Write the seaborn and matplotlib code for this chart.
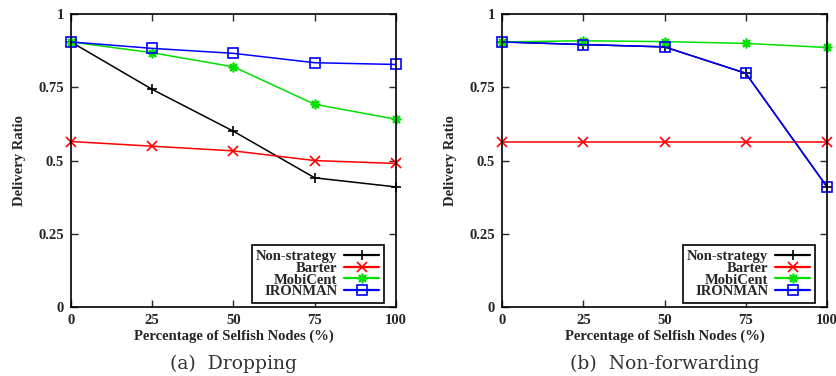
import pandas as pd
import matplotlib
matplotlib.use("Agg")
import matplotlib.pyplot as plt
import seaborn as sb

# data
selfish = [0, 25, 50, 75, 100]
methods = ["Non-strategy", "Barter", "MobiCent", "IRONMAN"]

drop_non = [0.905, 0.743, 0.600, 0.441, 0.410]
drop_barter = [0.565, 0.549, 0.533, 0.500, 0.490]
drop_mobi = [0.905, 0.868, 0.820, 0.692, 0.641]
drop_iron = [0.905, 0.883, 0.866, 0.834, 0.828]

fwd_non = [0.905, 0.896, 0.888, 0.798, 0.410]
fwd_barter = [0.565, 0.565, 0.565, 0.565, 0.565]
fwd_mobi = [0.905, 0.909, 0.906, 0.900, 0.886]
fwd_iron = [0.905, 0.896, 0.888, 0.798, 0.410]

captions = ["(a)  Dropping", "(b)  Non-forwarding"]

colores = {"Non-strategy": "#000000", "Barter": "#ff0000",
           "MobiCent": "#00e000", "IRONMAN": "#0000ff"}
marcadores = {"Non-strategy": "+", "Barter": "x",
              "MobiCent": (8, 2, 0), "IRONMAN": "s"}


def tabela(series):
    linhas = []
    for nome, vals in zip(methods, series):
        for x, y in zip(selfish, vals):
            linhas.append({"selfish": x, "ratio": y, "method": nome})
    return pd.DataFrame(linhas)


df_drop = tabela([drop_non, drop_barter, drop_mobi, drop_iron])
df_fwd = tabela([fwd_non, fwd_barter, fwd_mobi, fwd_iron])

sb.set_style("ticks")
plt.rcParams["font.family"] = ["Liberation Serif", "DejaVu Serif"]

fig = plt.figure(figsize=(8.37, 3.76), dpi=100)
posicoes = [[0.0848, 0.1835, 0.3883, 0.779], [0.5998, 0.1835, 0.3883, 0.779]]

for pos, df, cap in zip(posicoes, [df_drop, df_fwd], captions):
    ax = fig.add_axes(pos)
    for nome in methods:
        sub = df[df["method"] == nome]
        sb.lineplot(data=sub, x="selfish", y="ratio", color=colores[nome],
                    marker=marcadores[nome], linewidth=1.1, markersize=7,
                    markeredgewidth=1.2, markerfacecolor="none",
                    markeredgecolor=colores[nome], label=nome, ax=ax,
                    clip_on=False, legend=False)
    for ln in ax.lines:
        ln.set_clip_on(False)
    ax.set_xlim(0, 100)
    ax.set_ylim(0, 1)
    ax.set_xticks(selfish)
    ax.set_xticklabels([str(v) for v in selfish], fontweight="bold")
    ax.set_yticks([0, 0.25, 0.5, 0.75, 1])
    ax.set_yticklabels(["0", "0.25", "0.5", "0.75", "1"], fontweight="bold")
    ax.tick_params(direction="in", length=5, width=1, top=True, right=True,
                   labelsize=10.5, pad=5)
    for s in ax.spines.values():
        s.set_visible(True)
        s.set_linewidth(1.2)
        s.set_color("black")
    ax.set_xlabel("Percentage of Selfish Nodes (%)", fontsize=10.5,
                  fontweight="bold", labelpad=2)
    ax.set_ylabel("Delivery Ratio", fontsize=10.5, fontweight="bold",
                  labelpad=9)
    handles = ax.lines[:len(methods)]
    leg = ax.legend(handles, methods, loc="lower right", markerfirst=False,
                    fancybox=False, edgecolor="black", framealpha=1,
                    labelspacing=-0.1, handlelength=2.4,
                    handletextpad=0.5, borderpad=0.3,
                    bbox_to_anchor=(0.985, -0.01),
                    prop={"weight": "bold", "size": 10.5})
    leg.get_frame().set_linewidth(1.2)
    for h in leg.legend_handles:
        h.set_linewidth(1.6)
    ax.text(0.5, -0.162, cap, transform=ax.transAxes, ha="center", va="top",
            fontsize=13.5, color="#333333", family="DejaVu Serif")

fig.savefig("out.png", dpi=100)
